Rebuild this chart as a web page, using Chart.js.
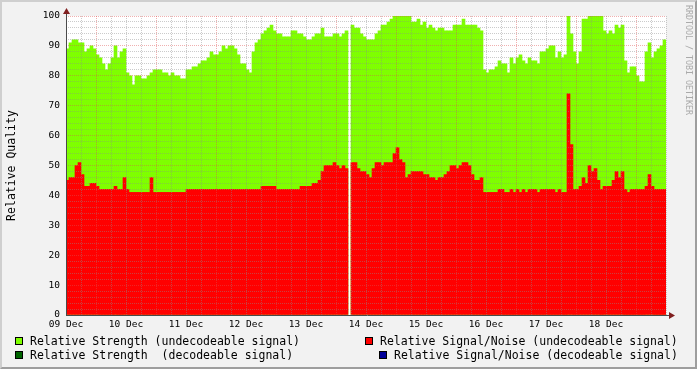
<!DOCTYPE html>
<html>
<head>
<meta charset="utf-8">
<script src="https://cdn.jsdelivr.net/npm/chart.js@4.4.0/dist/chart.umd.min.js"></script>
<style>
  html, body { margin: 0; padding: 0; background: #f2f2f2; }
  #frame { position: absolute; left: 0; top: 0; width: 697px; height: 369px; box-sizing: border-box;
    border-top: 2px solid #cfcfcf; border-left: 2px solid #cfcfcf;
    border-right: 2px solid #9e9e9e; border-bottom: 2px solid #9e9e9e; }
  #chart { position: absolute; left: 0; top: 0; }
  .lg { position: absolute; font: 11.5px "DejaVu Sans Mono"; color: #000; white-space: pre; line-height: 14px; }
  .box { position: absolute; width: 6px; height: 6px; border: 1px solid #000; }
  #wm { position: absolute; left: 684px; top: 5px; font: 8.3px "DejaVu Sans Mono"; color: #aaa;
    writing-mode: vertical-rl; white-space: pre; }
</style>
</head>
<body>
<div id="frame"></div>
<canvas id="chart" width="697" height="340"></canvas>
<div id="legend"></div>
<div id="wm">RRDTOOL / TOBI OETIKER</div>
<script>
// day labels, one per 24h
const days = ['09 Dec', '10 Dec', '11 Dec', '12 Dec', '13 Dec', '14 Dec', '15 Dec', '16 Dec', '17 Dec', '18 Dec'];

// relative strength, undecodeable (1.2h buckets)
const strength = [
  89, 91, 92, 92, 91, 91, 88, 89, 90, 89,
  87, 86, 84, 82, 84, 86, 90, 86, 88, 89,
  81, 80, 77, 80, 80, 79, 79, 80, 81, 82,
  82, 82, 81, 81, 80, 81, 80, 80, 79, 79,
  82, 82, 83, 83, 84, 85, 85, 86, 88, 87,
  87, 88, 90, 89, 90, 90, 89, 87, 84, 84,
  82, 81, 88, 91, 92, 94, 95, 96, 97, 95,
  94, 94, 93, 93, 93, 95, 95, 94, 94, 93,
  92, 92, 93, 94, 94, 96, 93, 93, 93, 94,
  94, 93, 94, 95, null, 97, 96, 96, 94, 93,
  92, 92, 92, 94, 95, 97, 97, 98, 99, 100,
  100, 100, 100, 100, 100, 98, 98, 99, 97, 98,
  96, 97, 96, 95, 96, 96, 95, 95, 95, 97,
  97, 97, 99, 97, 97, 97, 97, 96, 95, 82,
  81, 82, 82, 83, 85, 84, 84, 81, 86, 84,
  86, 87, 85, 84, 86, 85, 85, 84, 88, 88,
  89, 90, 90, 86, 88, 86, 87, 100, 94, 88,
  84, 88, 99, 99, 100, 100, 100, 100, 100, 95,
  94, 95, 94, 97, 96, 97, 85, 81, 83, 83,
  80, 78, 78, 88, 91, 86, 88, 89, 90, 92
];

// relative signal/noise, undecodeable
const signal = [
  45, 46, 46, 50, 51, 47, 43, 43, 44, 44,
  43, 42, 42, 42, 42, 42, 43, 42, 42, 46,
  42, 41, 41, 41, 41, 41, 41, 41, 46, 41,
  41, 41, 41, 41, 41, 41, 41, 41, 41, 41,
  42, 42, 42, 42, 42, 42, 42, 42, 42, 42,
  42, 42, 42, 42, 42, 42, 42, 42, 42, 42,
  42, 42, 42, 42, 42, 43, 43, 43, 43, 43,
  42, 42, 42, 42, 42, 42, 42, 42, 43, 43,
  43, 43, 44, 44, 45, 48, 50, 50, 50, 51,
  50, 49, 50, 49, null, 51, 51, 49, 48, 48,
  47, 46, 49, 51, 51, 50, 51, 51, 51, 54,
  56, 52, 51, 46, 47, 48, 48, 48, 48, 47,
  47, 46, 46, 45, 46, 46, 47, 48, 50, 50,
  49, 50, 51, 51, 50, 47, 45, 45, 46, 41,
  41, 41, 41, 41, 42, 42, 41, 41, 42, 41,
  42, 41, 42, 41, 42, 42, 42, 41, 42, 42,
  42, 42, 42, 41, 42, 41, 41, 74, 57, 42,
  42, 43, 46, 44, 50, 48, 49, 45, 42, 43,
  43, 43, 45, 48, 46, 48, 42, 41, 42, 42,
  42, 42, 42, 43, 47, 43, 42, 42, 42, 42
];

// decodeable series have no samples in this period
const strengthDecoded = [];
const signalDecoded = [];

const names = [
  'Relative Strength (undecodeable signal)',
  'Relative Signal/Noise (undecodeable signal)',
  'Relative Strength  (decodeable signal)',
  'Relative Signal/Noise (decodeable signal)'
];
const colors = ['#7fff00', '#ff0000', '#006400', '#000099'];

const minorGrid = 'rgba(140,140,140,0.45)';
const majorGrid = 'rgba(222,79,79,0.45)';
const monoFont = 'DejaVu Sans Mono';

// legend, rrdtool style (2 columns)
const legendSpots = [[15, 30, 334], [365, 380, 334], [15, 30, 348], [379, 394, 348]];
const legendEl = document.getElementById('legend');
names.forEach((n, i) => {
    const [bx, tx, ty] = legendSpots[i];
    legendEl.insertAdjacentHTML('beforeend',
        `<div class="box" style="left:${bx}px;top:${ty + 3}px;background:${colors[i]}"></div>` +
        `<div class="lg" style="left:${tx}px;top:${ty}px">${n}</div>`);
});

const frame = {
    id: 'frame',
    beforeDraw(chart) {
        const { ctx, chartArea: a } = chart;
        ctx.save();
        ctx.fillStyle = '#ffffff';
        ctx.fillRect(a.left, a.top, a.right - a.left, a.bottom - a.top);
        ctx.restore();
    },
    afterDraw(chart) {
        const { ctx, chartArea: a } = chart;
        ctx.save();
        ctx.strokeStyle = '#4a4a4a';
        ctx.lineWidth = 1;
        ctx.beginPath();
        ctx.moveTo(a.left + 0.5, a.bottom);
        ctx.lineTo(a.left + 0.5, a.top - 3);
        ctx.moveTo(a.left, a.bottom + 0.5);
        ctx.lineTo(a.right + 3, a.bottom + 0.5);
        ctx.stroke();
        ctx.fillStyle = '#801f1f';
        ctx.beginPath();
        ctx.moveTo(a.left + 0.5, a.top - 8);
        ctx.lineTo(a.left - 3, a.top - 2);
        ctx.lineTo(a.left + 4, a.top - 2);
        ctx.fill();
        ctx.beginPath();
        ctx.moveTo(a.right + 9, a.bottom + 0.5);
        ctx.lineTo(a.right + 3, a.bottom - 3);
        ctx.lineTo(a.right + 3, a.bottom + 4);
        ctx.fill();
        ctx.restore();
    }
};

const ctx = document.getElementById('chart').getContext('2d');
new Chart(ctx, {
    type: 'bar',
    data: {
        labels: strength.map((_, i) => i),
        datasets: [
            { label: names[0], data: strength, backgroundColor: colors[0], xAxisID: 'x', order: 3 },
            { label: names[2], data: strengthDecoded, backgroundColor: colors[2], xAxisID: 'x', order: 2 },
            { label: names[1], data: signal, backgroundColor: colors[1], xAxisID: 'x', order: 1 },
            { label: names[3], data: signalDecoded, backgroundColor: colors[3], xAxisID: 'x', order: 0 }
        ]
    },
    options: {
        responsive: false,
        animation: false,
        devicePixelRatio: 1,
        layout: { padding: { top: 16, right: 31, bottom: 0, left: 0 } },
        plugins: { legend: { display: false }, tooltip: { enabled: false } },
        datasets: { bar: { barPercentage: 1, categoryPercentage: 1, borderWidth: 0 } },
        scales: {
            x: { type: 'category', stacked: true, display: false },
            hours: {
                type: 'linear', axis: 'x', position: 'bottom', min: 0, max: 240, offset: false,
                afterFit: s => { s.height = 25; },
                ticks: {
                    stepSize: 6, autoSkip: false, maxRotation: 0, padding: 4, color: '#000',
                    font: { family: monoFont, size: 9.5 },
                    callback: v => (v % 24 === 0 && v < 240) ? days[v / 24] : ''
                },
                grid: {
                    z: 1, offset: false, drawTicks: false, lineWidth: 1,
                    color: c => (c.tick && c.tick.value % 24 === 12) ? majorGrid : minorGrid
                },
                border: { display: false, dash: [1, 1] }
            },
            y: {
                min: 0, max: 100,
                afterFit: s => { s.width = 66; },
                ticks: {
                    stepSize: 2, autoSkip: false, padding: 6, color: '#000',
                    font: { family: monoFont, size: 9.5 },
                    callback: v => v % 10 === 0 ? v : ''
                },
                grid: {
                    z: 1, drawTicks: false, lineWidth: 1,
                    color: c => (c.tick && c.tick.value % 10 === 0) ? majorGrid : minorGrid
                },
                border: { display: false, dash: [1, 1] },
                title: {
                    display: true, text: 'Relative Quality', color: '#000',
                    font: { family: monoFont, size: 11.5 }, padding: { top: 5, bottom: 0 }
                }
            }
        }
    },
    plugins: [frame]
});
</script>
</body>
</html>
